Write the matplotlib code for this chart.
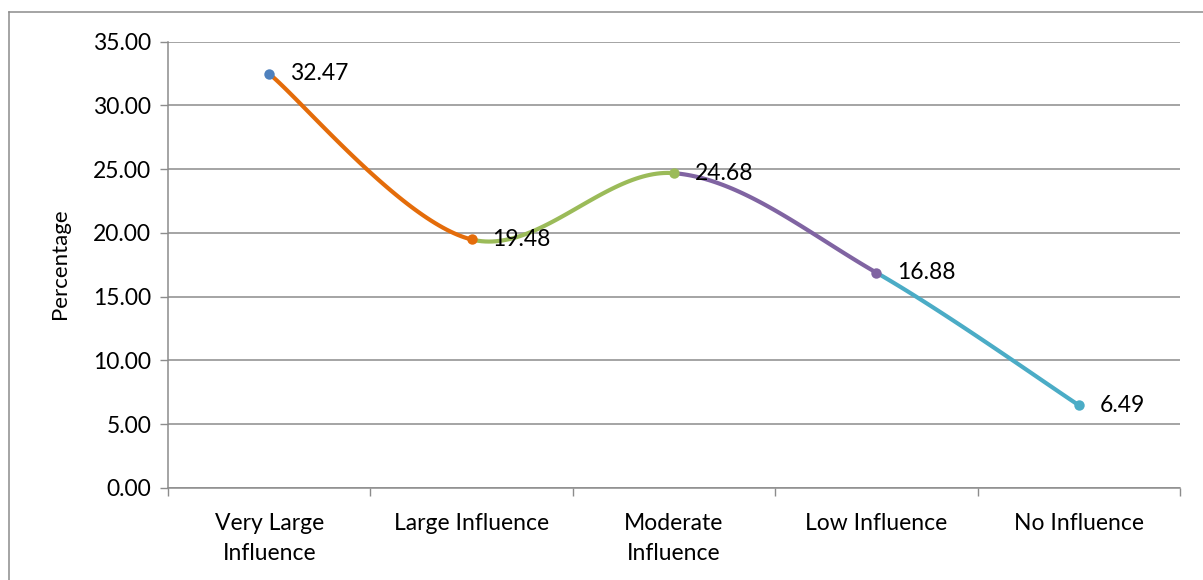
import numpy as np
import matplotlib
matplotlib.use('Agg')
import matplotlib.pyplot as plt
from matplotlib.lines import Line2D

# ── Datos ─────────────────────────────────────────────────────────
categorias = ['Very Large\nInfluence', 'Large Influence', 'Moderate\nInfluence',
              'Low Influence', 'No Influence']
valores = [32.47, 19.48, 24.68, 16.88, 6.49]
etiquetas = ['32.47', '19.48', '24.68', '16.88', '6.49']

# colores por punto (estilo Excel "variar colores")
_COLORES = ['#4f81bd', '#e46c0a', '#9bbb59', '#8064a2', '#4bacc6']
_GRIS = '#8c8c8c'

plt.rcParams['font.family'] = ['Lato', 'DejaVu Sans']
FS = 16.5

W, H = 1203, 580
fig = plt.figure(figsize=(W / 100, H / 100), dpi=100)
ax = fig.add_axes([168 / W, (H - 488) / H, (1180 - 168) / W, (488 - 41.5) / H])


def _bezier_tramo(p, i, n=60):
    # curva suavizada tipo Excel (Catmull-Rom a Bezier)
    p0 = p[max(i - 1, 0)]
    p1 = p[i]
    p2 = p[i + 1]
    p3 = p[min(i + 2, len(p) - 1)]
    c1 = p1 + (p2 - p0) / 6.0
    c2 = p2 - (p3 - p1) / 6.0
    t = np.linspace(0, 1, n)[:, None]
    return ((1 - t) ** 3) * p1 + 3 * ((1 - t) ** 2) * t * c1 + 3 * (1 - t) * t ** 2 * c2 + t ** 3 * p2


x = np.arange(len(valores))
pts = np.column_stack([x, valores]).astype(float)

for i in range(len(valores) - 1):
    seg = _bezier_tramo(pts, i)
    ax.plot(seg[:, 0], seg[:, 1], '-', color=_COLORES[i + 1], lw=3.0,
            solid_capstyle='round', zorder=3)

for i, v in enumerate(valores):
    ax.plot([i], [v], 'o', color=_COLORES[i], markersize=7.5, zorder=4,
            markeredgewidth=0)
    ax.annotate(etiquetas[i], (i, v), xytext=(15, 0), textcoords='offset points',
                ha='left', va='center', fontsize=FS, color='black', zorder=5)

ax.set_xlim(-0.5, len(valores) - 0.5)
ax.set_ylim(0, 35)
ax.set_yticks(np.arange(0, 35.01, 5))
ax.set_yticklabels(['%.2f' % v for v in np.arange(0, 35.01, 5)], fontsize=FS)
ax.set_xticks(x)
ax.set_xticklabels(categorias, fontsize=FS, linespacing=1.5)
ax.set_xticks(np.arange(-0.5, len(valores), 1.0), minor=True)

ax.tick_params(axis='x', which='major', length=0, pad=18)
ax.tick_params(axis='x', which='minor', length=5.5, width=1.0, color=_GRIS, direction='out')
ax.tick_params(axis='y', length=6, width=1.0, color=_GRIS, pad=6)

ax.grid(True, axis='y', color=_GRIS, lw=1.1, zorder=1)
ax.set_axisbelow(True)
for lado in ['top', 'right']:
    ax.spines[lado].set_visible(False)
for lado in ['left', 'bottom']:
    ax.spines[lado].set_color(_GRIS)
    ax.spines[lado].set_linewidth(1.1)

fig.text(60 / W, 1 - 264 / H, 'Percentage', rotation=90, ha='center', va='center',
         fontsize=16)

# borde exterior del gráfico (solo visible arriba e izquierda)
fig.add_artist(Line2D([9 / W, 1], [1 - 12 / H, 1 - 12 / H], color=_GRIS, lw=1.1,
                      transform=fig.transFigure))
fig.add_artist(Line2D([9 / W, 9 / W], [0, 1 - 12 / H], color=_GRIS, lw=1.1,
                      transform=fig.transFigure))

fig.savefig('out.png', dpi=100)
